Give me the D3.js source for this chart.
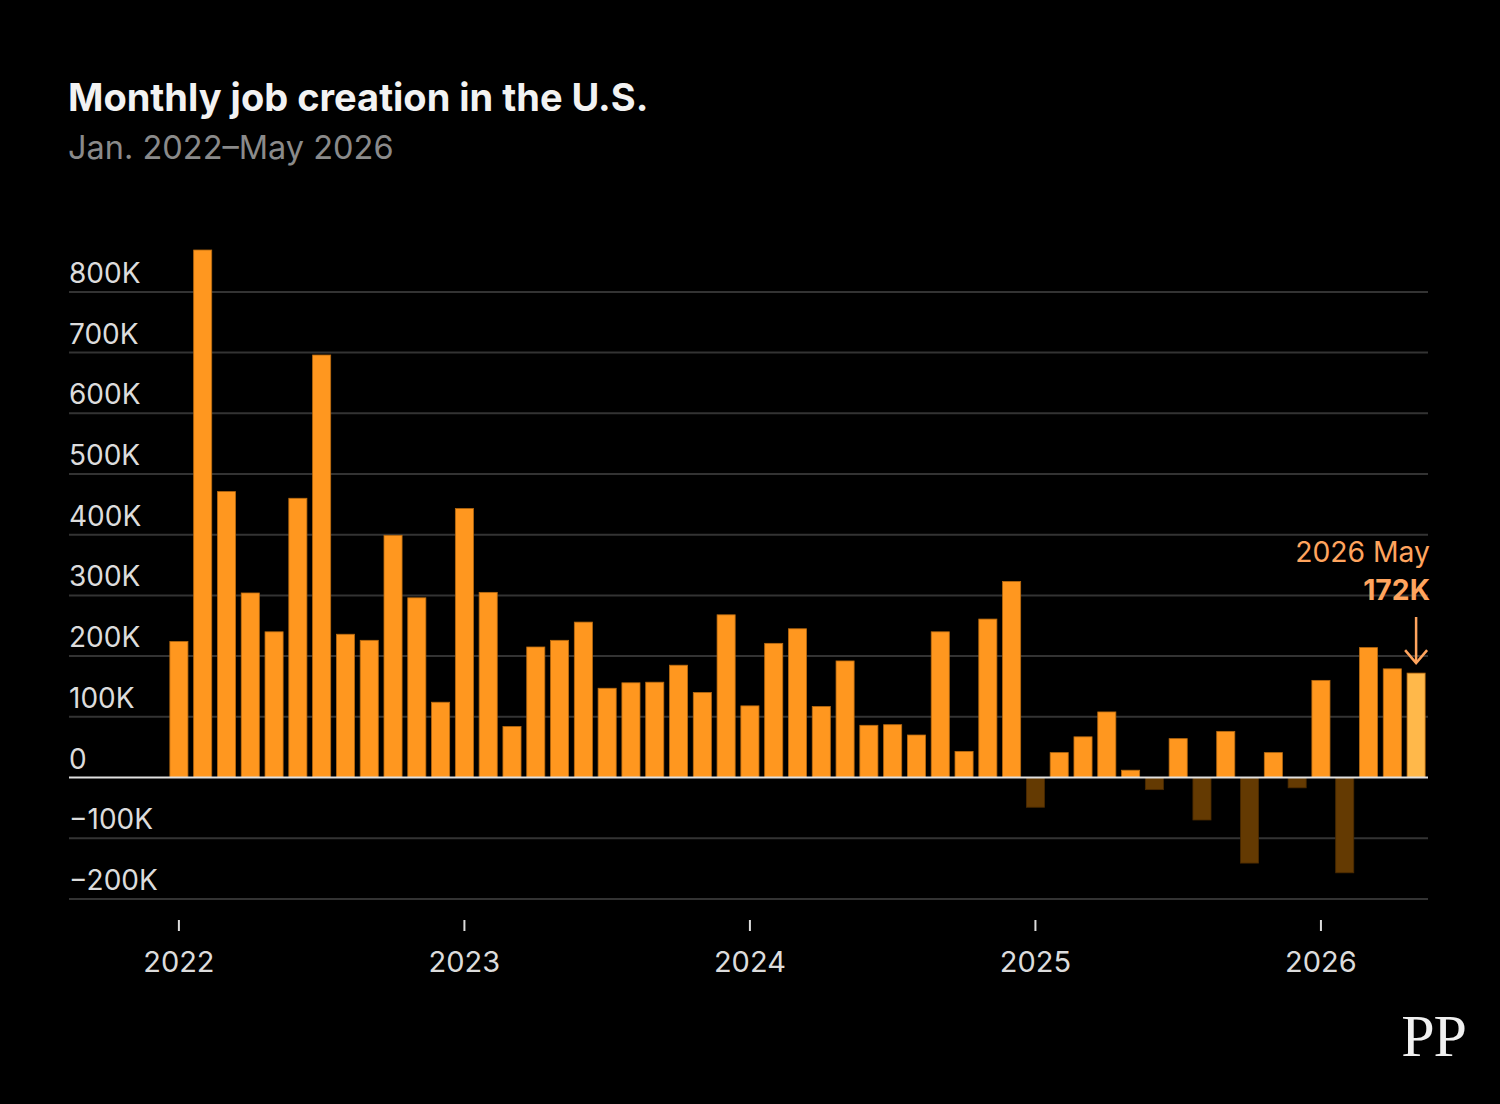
<!DOCTYPE html>
<html>
<head>
<meta charset="utf-8">
<script src="https://cdn.jsdelivr.net/npm/d3@7"></script>
<style>
  html, body { margin: 0; padding: 0; background: #000; }
  svg { display: block; }
</style>
</head>
<body>
<svg id="chart" width="1500" height="1104"></svg>
<script>
// ---- Data ----
const months = [
  "2022-01","2022-02","2022-03","2022-04","2022-05","2022-06","2022-07","2022-08","2022-09","2022-10","2022-11","2022-12",
  "2023-01","2023-02","2023-03","2023-04","2023-05","2023-06","2023-07","2023-08","2023-09","2023-10","2023-11","2023-12",
  "2024-01","2024-02","2024-03","2024-04","2024-05","2024-06","2024-07","2024-08","2024-09","2024-10","2024-11","2024-12",
  "2025-01","2025-02","2025-03","2025-04","2025-05","2025-06","2025-07","2025-08","2025-09","2025-10","2025-11","2025-12",
  "2026-01","2026-02","2026-03","2026-04","2026-05"
];
const jobsK = [
  224, 869, 471, 304, 240, 460, 696, 236, 226, 399, 296, 124,
  443, 305, 84, 215, 226, 256, 147, 156, 157, 185, 140, 268,
  118, 221, 245, 117, 192, 86, 87, 70, 240, 43, 261, 323,
  -49, 41, 67, 108, 12, -20, 64, -70, 76, -141, 41, -17,
  160, -157, 214, 179, 172
];
const yTicks = [-200, -100, 0, 100, 200, 300, 400, 500, 600, 700, 800];
const yearTicks = ["2022-01","2023-01","2024-01","2025-01","2026-01"];
const titleText = "Monthly job creation in the U.S.";
const subtitleText = "Jan. 2022\u2013May 2026";
const annotLabel = "2026 May";
const annotValue = "172K";

// ---- Chart ----
const font = "Inter, Lato, 'Open Sans', sans-serif";
const svg = d3.select("#chart");
svg.append("rect").attr("width", 1500).attr("height", 1104).attr("fill", "#000");

const left = 69, right = 1428;
const x = d3.scaleBand().domain(months).range([167, 1428]).paddingInner(0.24).paddingOuter(0.12);
const y = d3.scaleLinear().domain([-200, 800]).range([898.9, 291.9]);

// gridlines
svg.append("g").selectAll("line").data(yTicks.filter(d => d !== 0)).join("line")
  .attr("x1", left).attr("x2", right)
  .attr("y1", d => y(d)).attr("y2", d => y(d))
  .attr("stroke", "#333").attr("stroke-width", 2);

// y tick labels
const fmt = d => d === 0 ? "0" : (d < 0 ? "\u2212" + Math.abs(d) + "K" : d + "K");
svg.append("g").selectAll("text").data(yTicks).join("text")
  .attr("x", left).attr("y", d => y(d) - 9)
  .attr("fill", "#dcdcdc").attr("font-family", font).attr("font-size", 28)
  .text(fmt);

// bars
const data = months.map((m, i) => ({ m, v: jobsK[i], last: i === months.length - 1 }));
svg.append("g").selectAll("rect").data(data).join("rect")
  .attr("x", d => x(d.m))
  .attr("width", x.bandwidth())
  .attr("y", d => y(Math.max(0, d.v)))
  .attr("height", d => Math.abs(y(d.v) - y(0)))
  .attr("fill", d => d.last ? "#ffb84a" : (d.v < 0 ? "#643a02" : "#ff971f"))
  .attr("stroke", d => d.v < 0 ? "#4a2a00" : "#b86a10")
  .attr("stroke-width", 0.8);

// zero line
svg.append("line").attr("x1", left).attr("x2", right)
  .attr("y1", y(0)).attr("y2", y(0))
  .attr("stroke", "#e0e0e0").attr("stroke-width", 2);

// x axis ticks and labels
const xa = svg.append("g");
xa.selectAll("line").data(yearTicks).join("line")
  .attr("x1", d => x(d) + x.bandwidth() / 2).attr("x2", d => x(d) + x.bandwidth() / 2)
  .attr("y1", 920).attr("y2", 931)
  .attr("stroke", "#dcdcdc").attr("stroke-width", 2);
xa.selectAll("text").data(yearTicks).join("text")
  .attr("x", d => x(d) + x.bandwidth() / 2).attr("y", 972)
  .attr("text-anchor", "middle")
  .attr("fill", "#dcdcdc").attr("font-family", font).attr("font-size", 29)
  .text(d => d.slice(0, 4));

// title & subtitle
svg.append("text").attr("x", 68).attr("y", 111)
  .attr("fill", "#f2f2f2").attr("font-family", font).attr("font-weight", 700).attr("font-size", 38)
  .text(titleText);
svg.append("text").attr("x", 68).attr("y", 159)
  .attr("fill", "#8a8a8a").attr("font-family", font).attr("font-size", 32.5)
  .text(subtitleText);

// annotation
const lastM = months[months.length - 1];
const ax = x(lastM) + x.bandwidth() / 2;
svg.append("text").attr("x", 1430).attr("y", 562).attr("text-anchor", "end")
  .attr("fill", "#ffa45e").attr("font-family", font).attr("font-size", 28.3)
  .text(annotLabel);
svg.append("text").attr("x", 1430).attr("y", 600).attr("text-anchor", "end")
  .attr("fill", "#ffa45e").attr("font-family", font).attr("font-weight", 700).attr("font-size", 28.3)
  .text(annotValue);
const arrowTop = 617, arrowBot = y(jobsK[jobsK.length - 1]) - 10;
svg.append("line").attr("x1", ax).attr("x2", ax).attr("y1", arrowTop).attr("y2", arrowBot)
  .attr("stroke", "#ffa45e").attr("stroke-width", 2.5);
svg.append("path")
  .attr("d", `M${ax - 11},${arrowBot - 13} L${ax},${arrowBot} L${ax + 11},${arrowBot - 13}`)
  .attr("fill", "none").attr("stroke", "#ffa45e").attr("stroke-width", 2.5).attr("stroke-linejoin", "miter");

// logo
svg.append("text").attr("x", 1466).attr("y", 1056).attr("text-anchor", "end")
  .attr("fill", "#f0f0f0").attr("font-family", "'Liberation Serif', 'DejaVu Serif', serif").attr("font-size", 60)
  .attr("letter-spacing", -1)
  .text("PP");
</script>
</body>
</html>
